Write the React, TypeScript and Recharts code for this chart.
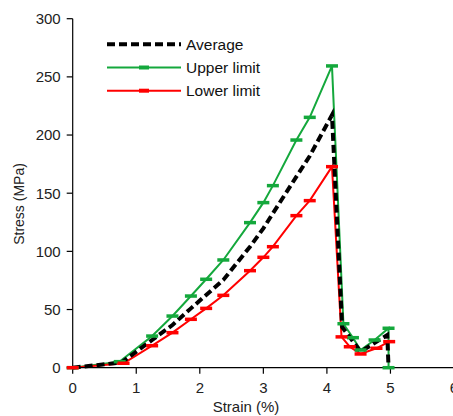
import { Line, LineChart, XAxis, YAxis } from "recharts";

const upperStrain = [0, 0.74, 1.25, 1.57, 1.86, 2.1, 2.37, 2.79, 3.0, 3.15, 3.52, 3.73, 4.08, 4.26, 4.41, 4.53, 4.75, 4.97, 4.97];
const upperStress = [0, 5.2, 27.2, 44.4, 61.6, 76, 92.6, 124.7, 141.9, 156.5, 195.7, 215.2, 259.4, 37.8, 25.8, 15.2, 23.8, 33.9, 0];

const lowerStrain = [0, 0.8, 1.25, 1.57, 1.86, 2.1, 2.37, 2.79, 3.0, 3.15, 3.52, 3.73, 4.08, 4.23, 4.36, 4.53, 4.78, 4.98];
const lowerStress = [0, 3.8, 18.9, 30.1, 41.6, 51, 62.2, 83.4, 94.9, 104, 130.7, 143.6, 172.8, 26.5, 18, 11.8, 16.7, 22.4];

const avgStrain = [0, 0.77, 1.25, 1.57, 1.86, 2.1, 2.37, 2.79, 3.0, 3.15, 3.52, 3.73, 4.08, 4.24, 4.53, 4.95, 4.97];
const avgStress = [0, 4.5, 23.8, 36.7, 51, 62.5, 75.4, 104, 119.8, 132.7, 164.2, 182, 217.2, 35, 13.8, 28, 0];

const xTicks = [0, 1, 2, 3, 4, 5, 6];
const yTicks = [0, 50, 100, 150, 200, 250, 300];

const GREEN = "#14a83c";
const RED = "#ff0000";

const toRows = (xs: number[], ys: number[]) => xs.map((x, i) => ({ x, y: ys[i] }));

const upperData = toRows(upperStrain, upperStress);
const lowerData = toRows(lowerStrain, lowerStress);
const avgData = toRows(avgStrain, avgStress);

const legendItems = [
    { name: "Average", color: "#000", dashed: true },
    { name: "Upper limit", color: GREEN, dashed: false },
    { name: "Lower limit", color: RED, dashed: false },
];

// horizontal bar marker, like the origin plot
const capDot = (color: string) => (props: any) => {
    const { cx, cy, index } = props;
    if (cx == null || cy == null) return <g key={index} />;
    return (
        <line
            key={index}
            x1={cx - 6}
            x2={cx + 6}
            y1={cy}
            y2={cy}
            stroke={color}
            strokeWidth={3.5}
        />
    );
};

const tickStyle = { fill: "#222", fontSize: 15, fontFamily: "Liberation Sans, Arial, sans-serif" };

export default function App() {
    return (
        <div style={{ position: "relative", width: 453, height: 416, overflow: "hidden" }}>
            <style>{"body{margin:0}"}</style>
            <LineChart width={454} height={416} margin={{ top: 18.7, right: 0, bottom: 0, left: 0 }}>
                <XAxis
                    type="number"
                    dataKey="x"
                    domain={[0, 6]}
                    ticks={xTicks}
                    interval={0}
                    height={48.3}
                    tickSize={6}
                    tickMargin={9}
                    stroke="#000"
                    strokeWidth={1.2}
                    tick={tickStyle}
                    label={{
                        content: () => (
                            <text
                                x={246}
                                y={412}
                                textAnchor="middle"
                                fontSize={15}
                                fontFamily="Liberation Sans, Arial, sans-serif"
                                fill="#222"
                            >
                                Strain (%)
                            </text>
                        ),
                    }}
                />
                <YAxis
                    type="number"
                    dataKey="y"
                    domain={[0, 300]}
                    ticks={yTicks}
                    interval={0}
                    width={72.7}
                    tickSize={6}
                    tickMargin={6}
                    stroke="#000"
                    strokeWidth={1.2}
                    tick={tickStyle}
                    label={{
                        content: () => (
                            <text
                                x={24}
                                y={204}
                                transform="rotate(-90 24 204)"
                                textAnchor="middle"
                                fontSize={14}
                                fontFamily="Liberation Sans, Arial, sans-serif"
                                fill="#222"
                            >
                                Stress (MPa)
                            </text>
                        ),
                    }}
                />
                <Line
                    data={upperData}
                    dataKey="y"
                    stroke={GREEN}
                    strokeWidth={2}
                    dot={capDot(GREEN)}
                    activeDot={false}
                    isAnimationActive={false}
                />
                <Line
                    data={lowerData}
                    dataKey="y"
                    stroke={RED}
                    strokeWidth={2}
                    dot={capDot(RED)}
                    activeDot={false}
                    isAnimationActive={false}
                />
                <Line
                    data={avgData}
                    dataKey="y"
                    stroke="#000"
                    strokeWidth={4}
                    strokeDasharray="8 4"
                    dot={false}
                    activeDot={false}
                    isAnimationActive={false}
                />
            </LineChart>
            <svg width={320} height={110} style={{ position: "absolute", left: 0, top: 0 }}>
                {legendItems.map((item, i) => {
                    const y = 44.3 + i * 23.2;
                    return (
                        <g key={item.name}>
                            <line
                                x1={107}
                                x2={181}
                                y1={y}
                                y2={y}
                                stroke={item.color}
                                strokeWidth={item.dashed ? 4 : 2}
                                strokeDasharray={item.dashed ? "8 4" : undefined}
                            />
                            {!item.dashed && (
                                <line x1={139} x2={149} y1={y} y2={y} stroke={item.color} strokeWidth={4} />
                            )}
                            <text
                                x={186}
                                y={y + 5.5}
                                fontSize={15.5}
                                fontFamily="Liberation Sans, Arial, sans-serif"
                                fill="#111"
                            >
                                {item.name}
                            </text>
                        </g>
                    );
                })}
            </svg>
        </div>
    );
}
